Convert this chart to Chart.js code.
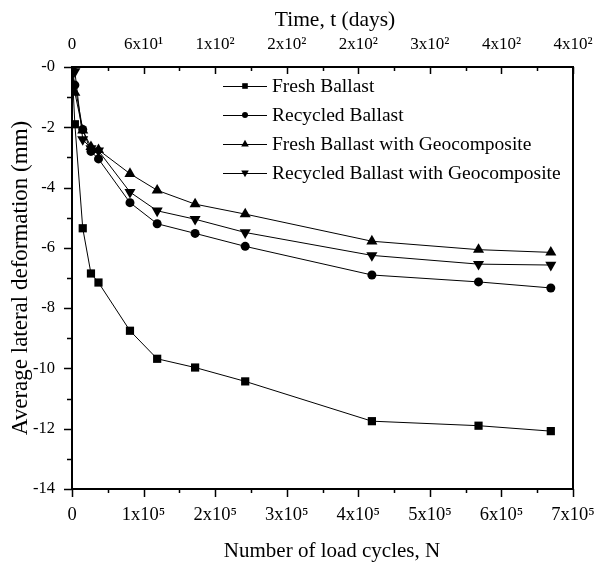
<!DOCTYPE html>
<html>
<head>
<meta charset="utf-8">
<script src="https://cdn.jsdelivr.net/npm/chart.js@4/dist/chart.umd.min.js"></script>
<style>
html,body{margin:0;padding:0;background:#fff;}
canvas{display:block;}
</style>
</head>
<body>
<canvas id="c" width="597" height="565"></canvas>
<script>
// ---- data ----
const loadCycles = [0, 4000, 15000, 26500, 37000, 81000, 119000, 172000, 242000, 419000, 568000, 669000];
const freshBallast = [0, -1.9, -5.35, -6.85, -7.15, -8.75, -9.68, -9.97, -10.43, -11.75, -11.9, -12.08];
const recycledBallast = [0, -0.6, -2.07, -2.8, -3.05, -4.5, -5.2, -5.52, -5.95, -6.9, -7.13, -7.33];
const freshGeo = [0, -0.85, -2.1, -2.65, -2.75, -3.54, -4.09, -4.55, -4.88, -5.78, -6.06, -6.15];
const recycledGeo = [0, -0.15, -2.4, -2.7, -2.78, -4.15, -4.77, -5.05, -5.49, -6.25, -6.54, -6.57];
const seriesLabels = ['Fresh Ballast', 'Recycled Ballast', 'Fresh Ballast with Geocomposite', 'Recycled Ballast with Geocomposite'];
const xTickLabels = ['0', '1x10\u2075', '2x10\u2075', '3x10\u2075', '4x10\u2075', '5x10\u2075', '6x10\u2075', '7x10\u2075'];
const timeTickLabels = ['0', '6x10\u00b9', '1x10\u00b2', '2x10\u00b2', '2x10\u00b2', '3x10\u00b2', '4x10\u00b2', '4x10\u00b2'];
const yTickLabels = ['-14', '-12', '-10', '-8', '-6', '-4', '-2', '-0'];
const xTitle = 'Number of load cycles, N';
const timeTitle = 'Time, t (days)';
const yTitle = 'Average lateral deformation (mm)';

const FONT = "'Liberation Serif', 'Times New Roman', serif";
const toPts = arr => arr.map((v, i) => ({x: loadCycles[i], y: v}));
const seriesValues = [freshBallast, recycledBallast, freshGeo, recycledGeo];
const styles = [
  {pointStyle: 'rect', radius: 5.8, rotation: 0},
  {pointStyle: 'circle', radius: 4.5, rotation: 0},
  {pointStyle: 'triangle', radius: 6.4, rotation: 0},
  {pointStyle: 'triangle', radius: 6.4, rotation: 180}
];

const datasets = seriesValues.map((vals, i) => ({
  label: seriesLabels[i],
  data: toPts(vals),
  borderColor: '#000',
  backgroundColor: '#000',
  borderWidth: 1,
  pointStyle: styles[i].pointStyle,
  pointRadius: styles[i].radius,
  pointRotation: styles[i].rotation,
  pointBackgroundColor: '#000',
  pointBorderColor: '#000',
  pointBorderWidth: 0,
  tension: 0,
  xAxisID: 'x',
  yAxisID: 'y'
}));

function drawMarker(ctx, style, x, y, r) {
  ctx.beginPath();
  if (style === 0) {
    ctx.rect(x - r, y - r, 2 * r, 2 * r);
  } else if (style === 1) {
    ctx.arc(x, y, r, 0, Math.PI * 2);
  } else if (style === 2) {
    ctx.moveTo(x, y - r);
    ctx.lineTo(x + r * 0.9, y + r * 0.6);
    ctx.lineTo(x - r * 0.9, y + r * 0.6);
    ctx.closePath();
  } else {
    ctx.moveTo(x, y + r);
    ctx.lineTo(x + r * 0.9, y - r * 0.6);
    ctx.lineTo(x - r * 0.9, y - r * 0.6);
    ctx.closePath();
  }
  ctx.fill();
}

const framePlugin = {
  id: 'frame',
  afterDraw(chart) {
    const ctx = chart.ctx;
    const a = chart.chartArea;
    const xs = chart.scales.x;
    const ys = chart.scales.y;
    ctx.save();
    ctx.strokeStyle = '#000';
    ctx.fillStyle = '#000';
    ctx.lineWidth = 1.5;
    ctx.beginPath();
    for (let v = 0; v <= 700000; v += 50000) {
      const px = Math.round(xs.getPixelForValue(v)) + 0.5;
      const major = v % 100000 === 0;
      ctx.moveTo(px, a.bottom);
      ctx.lineTo(px, a.bottom + (major ? 8 : 4));
      ctx.moveTo(px, a.top);
      ctx.lineTo(px, a.top + (major ? 7 : 4));
    }
    for (let v = -14; v <= 0; v += 1) {
      const py = Math.round(ys.getPixelForValue(v)) + 0.5;
      const major = v % 2 === 0;
      ctx.moveTo(a.left - (major ? 8 : 5), py);
      ctx.lineTo(a.left, py);
    }
    ctx.stroke();
    ctx.lineWidth = 2;
    ctx.strokeRect(a.left, a.top, a.right - a.left, a.bottom - a.top);
    ctx.textAlign = 'center';
    ctx.textBaseline = 'alphabetic';
    ctx.font = '21px ' + FONT;
    ctx.fillText(xTitle, 332, 557);
    ctx.font = '21.5px ' + FONT;
    ctx.fillText(timeTitle, 335, 26);
    const rows = [86, 115, 144, 173];
    const lr = [2.8, 3, 4.2, 4.2];
    ctx.font = '19.5px ' + FONT;
    ctx.textAlign = 'left';
    ctx.textBaseline = 'middle';
    ctx.lineWidth = 1;
    rows.forEach((ry, i) => {
      ctx.beginPath();
      ctx.moveTo(223, ry + 0.5);
      ctx.lineTo(267, ry + 0.5);
      ctx.stroke();
      drawMarker(ctx, i, 245, ry, lr[i]);
      ctx.fillText(chart.data.datasets[i].label, 272, ry + 1);
    });
    ctx.restore();
  }
};

const zeroPad = s => { s.paddingLeft = 0; s.paddingRight = 0; s.paddingTop = 0; s.paddingBottom = 0; };

new Chart(document.getElementById('c'), {
  type: 'line',
  data: {datasets},
  options: {
    responsive: false,
    animation: false,
    devicePixelRatio: 1,
    layout: {padding: {left: 0, right: 24, top: 0, bottom: 0}},
    plugins: {legend: {display: false}, tooltip: {enabled: false}},
    scales: {
      x: {
        type: 'linear', position: 'bottom', min: 0, max: 700000,
        grid: {display: false, drawTicks: false},
        border: {display: false},
        ticks: {
          stepSize: 100000, padding: 15, color: '#000', maxRotation: 0, autoSkip: false,
          font: {family: FONT, size: 18.5},
          callback: (v, i) => xTickLabels[i]
        },
        afterFit: s => { s.height = 76; zeroPad(s); }
      },
      x2: {
        type: 'linear', position: 'top', min: 0, max: 700000,
        grid: {display: false, drawTicks: false},
        border: {display: false},
        ticks: {
          stepSize: 100000, padding: 12, color: '#000', maxRotation: 0, autoSkip: false,
          font: {family: FONT, size: 17},
          callback: (v, i) => timeTickLabels[i]
        },
        afterFit: s => { s.height = 67; zeroPad(s); }
      },
      y: {
        type: 'linear', position: 'left', min: -14, max: 0,
        grid: {display: false, drawTicks: false},
        border: {display: false},
        ticks: {
          stepSize: 2, padding: 17, color: '#000',
          font: {family: FONT, size: 16.5},
          callback: (v, i) => yTickLabels[i]
        },
        title: {
          display: true, text: yTitle, color: '#000',
          font: {family: FONT, size: 23},
          padding: {top: 7, bottom: 0}
        },
        afterFit: s => { s.width = 72; zeroPad(s); }
      }
    }
  },
  plugins: [framePlugin]
});
</script>
</body>
</html>
